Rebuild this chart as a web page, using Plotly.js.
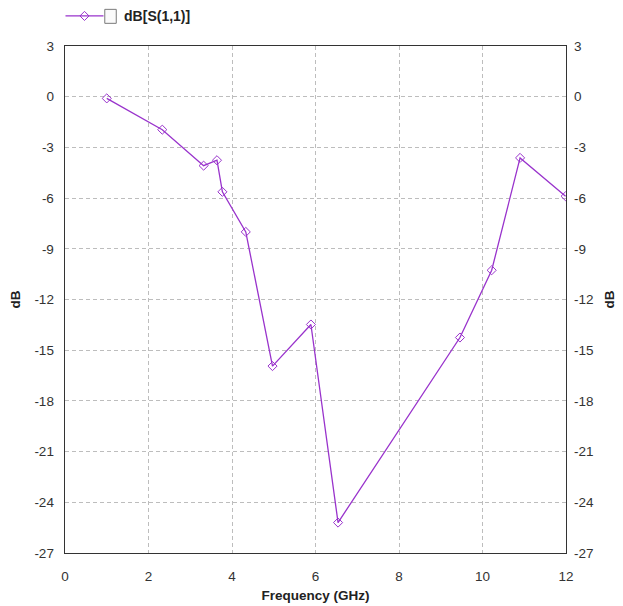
<!DOCTYPE html>
<html>
<head>
<meta charset="utf-8">
<script src="https://cdn.plot.ly/plotly-3.0.1.min.js"></script>
<style>html,body{margin:0;padding:0;background:#fff;}#chart{width:623px;height:606px;}</style>
</head>
<body>
<div id="chart"></div>
<script>
const seriesName = 'dB[S(1,1)]';
const freqGHz = [1.0, 2.33, 3.32, 3.64, 3.77, 4.33, 4.97, 5.89, 6.54, 9.46, 10.22, 10.9, 11.99];
const s11dB   = [-0.1, -1.95, -4.08, -3.76, -5.63, -8.0, -15.94, -13.48, -25.2, -14.25, -10.27, -3.62, -5.89];
const xTitle = 'Frequency (GHz)';
const yTitle = 'dB';
const xTickVals = [0, 2, 4, 6, 8, 10, 12];
const xTickText = ['0', '2', '4', '6', '8', '10', '12'];
const yTickVals = [3, 0, -3, -6, -9, -12, -15, -18, -21, -24, -27];
const yTickText = ['3', '0', '-3', '-6', '-9', '-12', '-15', '-18', '-21', '-24', '-27'];

const purple = '#9933CC';
const trace = {
  x: freqGHz, y: s11dB, type: 'scatter', mode: 'lines+markers',
  name: '\u00a0\u00a0\u00a0\u00a0<b>' + seriesName + '</b>',
  line: {color: purple, width: 1.3},
  marker: {symbol: 'diamond-open', size: 7, color: purple, line: {width: 1, color: purple}}
};
const ghost = {x: freqGHz, y: s11dB, yaxis: 'y2', type: 'scatter', mode: 'lines',
  line: {width: 0, color: 'rgba(0,0,0,0)'}, showlegend: false, hoverinfo: 'skip'};

const fam = 'Liberation Sans, Arial, sans-serif';
const axisFont = {family: fam, size: 13.5, color: '#333'};
const titleFont = {family: fam, size: 13.5, color: '#222', weight: 'bold'};

const layout = {
  width: 623, height: 606,
  margin: {l: 64.5, r: 57, t: 45.7, b: 53, autoexpand: false},
  paper_bgcolor: '#fff', plot_bgcolor: '#fff',
  showlegend: true,
  legend: {x: -0.009, y: 1.0585, xanchor: 'left', yanchor: 'middle', orientation: 'h', itemwidth: 38,
    font: {family: fam, size: 14, color: '#222'}, bgcolor: 'rgba(0,0,0,0)'},
  xaxis: {range: [0, 12], tickmode: 'array', tickvals: xTickVals, ticktext: xTickText,
    showgrid: true, gridcolor: '#bdbdbd', griddash: '4px,3px', gridwidth: 1,
    zeroline: false, showline: true, linecolor: '#333', linewidth: 1.4, mirror: true, ticks: '',
    ticklabelstandoff: 10, tickfont: axisFont, title: {text: '<b>' + xTitle + '</b>', font: titleFont, standoff: 8}},
  yaxis: {range: [-27, 3], tickmode: 'array', tickvals: yTickVals, ticktext: yTickText,
    showgrid: true, gridcolor: '#bdbdbd', griddash: '4px,3px', gridwidth: 1,
    zeroline: false, showline: true, linecolor: '#333', linewidth: 1.4, mirror: true, ticks: '',
    ticklabelstandoff: 7, tickfont: axisFont, title: {text: '<b>' + yTitle + '</b>', font: titleFont, standoff: 10}},
  yaxis2: {range: [-27, 3], tickmode: 'array', tickvals: yTickVals, ticktext: yTickText,
    overlaying: 'y', side: 'right', showgrid: false, zeroline: false,
    showline: false, ticks: '', ticklabelstandoff: 7, tickfont: axisFont,
    title: {text: '<b>' + yTitle + '</b>', font: titleFont, standoff: 11}},
  shapes: [{type: 'rect', xref: 'paper', yref: 'paper', x0: 0.0794, x1: 0.1023, y0: 1.0447, y1: 1.0723,
    line: {color: '#7a7a7a', width: 1}, fillcolor: '#fafafa'}]
};
Plotly.newPlot('chart', [trace, ghost], layout, {displayModeBar: false, staticPlot: true});
</script>
</body>
</html>
